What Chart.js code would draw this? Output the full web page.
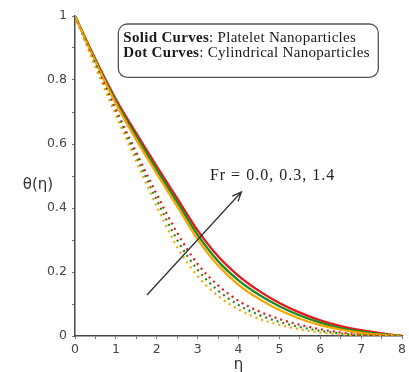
<!DOCTYPE html>
<html>
<head>
<meta charset="utf-8">
<script src="https://cdn.jsdelivr.net/npm/chart.js@4.4.1/dist/chart.umd.min.js"></script>
<style>
  html, body { margin: 0; padding: 0; background: #fff; }
  #wrap { width: 409px; height: 372px; }
</style>
</head>
<body>
<div id="wrap"><canvas id="theta"></canvas></div>
<script>
// eta grid
let eta = [0, 0.5, 1, 1.5, 2, 2.5, 3, 3.5, 4, 4.5, 5, 5.5, 6, 6.5, 7, 7.5, 8];

// platelet nanoparticles (solid)
let plateFr00 = [1, 0.857, 0.726, 0.613, 0.507, 0.405, 0.302, 0.22, 0.16, 0.116, 0.081, 0.054, 0.034, 0.02, 0.01, 0.004, 0];
let plateFr03 = [1, 0.861, 0.733, 0.623, 0.519, 0.418, 0.316, 0.234, 0.174, 0.129, 0.093, 0.064, 0.042, 0.025, 0.014, 0.006, 0];
let plateFr14 = [1, 0.865, 0.74, 0.633, 0.53, 0.43, 0.33, 0.249, 0.188, 0.141, 0.103, 0.073, 0.049, 0.031, 0.018, 0.008, 0];

// cylindrical nanoparticles (dotted)
let cylFr00 = [1, 0.84, 0.69, 0.545, 0.405, 0.278, 0.187, 0.125, 0.083, 0.054, 0.035, 0.021, 0.011, 0.005, 0.001, 0, 0];
let cylFr03 = [1, 0.845, 0.7, 0.56, 0.425, 0.3, 0.207, 0.142, 0.097, 0.066, 0.044, 0.028, 0.016, 0.008, 0.003, 0, 0];
let cylFr14 = [1, 0.85, 0.708, 0.573, 0.443, 0.322, 0.225, 0.158, 0.11, 0.077, 0.053, 0.035, 0.021, 0.011, 0.004, 0.001, 0];

let xTicks = [0, 1, 2, 3, 4, 5, 6, 7, 8];
let yTicks = [0, 0.2, 0.4, 0.6, 0.8, 1];

let RED = '#e8161b';
let GREEN = '#1f8a22';
let ORANGE = '#f7a600';

function pts(ys) {
  return eta.map((x, i) => ({x: x, y: ys[i]}));
}

function line(ys, colour, dotted) {
  return {
    data: pts(ys),
    borderColor: colour,
    borderWidth: dotted ? 2.2 : 2.3,
    borderDash: dotted ? [2, 4] : [],
    pointRadius: 0,
    fill: false,
    cubicInterpolationMode: 'monotone'
  };
}

// box, arrow and labels drawn in data units
let notes = {
  id: 'notes',
  afterDatasetsDraw(chart) {
    let ctx = chart.ctx;
    let xs = chart.scales.x, ys = chart.scales.y;
    let X = v => xs.getPixelForValue(v), Y = v => ys.getPixelForValue(v);
    ctx.save();

    // legend box
    let bx = X(1.06), by = Y(0.975), bw = X(7.42) - bx, bh = Y(0.808) - by;
    ctx.beginPath();
    ctx.roundRect(bx, by, bw, bh, 9);
    ctx.fillStyle = '#fff';
    ctx.fill();
    ctx.strokeStyle = '#555';
    ctx.lineWidth = 1.3;
    ctx.stroke();

    ctx.fillStyle = '#1a1a1a';
    ctx.textBaseline = 'middle';
    ctx.textAlign = 'left';
    ctx.letterSpacing = '0.3px';
    let rows = [['Solid Curves', ': Platelet Nanoparticles'], ['Dot Curves', ': Cylindrical Nanoparticles']];
    rows.forEach((r, i) => {
      let ty = by + 14 + i * 15.5;
      ctx.font = 'bold 15px "Liberation Serif"';
      ctx.fillText(r[0], bx + 5, ty);
      let w = ctx.measureText(r[0]).width;
      ctx.font = '15px "Liberation Serif"';
      ctx.fillText(r[1], bx + 5 + w, ty);
    });

    // arrow
    let x0 = X(1.76), y0 = Y(0.128), x1 = X(4.07), y1 = Y(0.45);
    ctx.strokeStyle = '#333';
    ctx.lineWidth = 1.3;
    ctx.beginPath();
    ctx.moveTo(x0, y0);
    ctx.lineTo(x1, y1);
    let a = Math.atan2(y1 - y0, x1 - x0);
    ctx.moveTo(x1 - 10 * Math.cos(a - 0.4), y1 - 10 * Math.sin(a - 0.4));
    ctx.lineTo(x1, y1);
    ctx.lineTo(x1 - 10 * Math.cos(a + 0.4), y1 - 10 * Math.sin(a + 0.4));
    ctx.stroke();

    ctx.font = '16px "Liberation Serif"';
    ctx.letterSpacing = '1px';
    ctx.fillStyle = '#222';
    ctx.fillText('Fr = 0.0, 0.3, 1.4', X(3.3), Y(0.5));

    // axis titles
    ctx.letterSpacing = '0px';
    ctx.font = '15px "DejaVu Sans"';
    ctx.fillStyle = '#333';
    ctx.textAlign = 'center';
    ctx.fillText('θ(η)', 38, Y(0.47));
    ctx.fillText('η', X(4), 365);
    ctx.restore();
  }
};

new Chart('theta', {
  type: 'line',
  data: {
    datasets: [
      line(cylFr00, ORANGE, true),
      line(cylFr03, GREEN, true),
      line(cylFr14, RED, true),
      line(plateFr00, ORANGE, false),
      line(plateFr03, GREEN, false),
      line(plateFr14, RED, false)
    ]
  },
  options: {
    responsive: true,
    maintainAspectRatio: false,
    animation: false,
    layout: {padding: {top: 16, right: 2, left: 0, bottom: 0}},
    plugins: {legend: {display: false}, tooltip: {enabled: false}},
    scales: {
      x: {
        type: 'linear',
        min: 0, max: 8,
        afterFit: s => { s.height = 36; },
        border: {display: true, color: '#484848', width: 1.5},
        grid: {drawOnChartArea: false, drawTicks: true, tickLength: 3, color: '#777'},
        ticks: {
          stepSize: 0.5,
          autoSkip: false,
          maxRotation: 0,
          padding: 3,
          color: '#444',
          font: {family: 'DejaVu Sans', size: 12.5},
          callback: v => xTicks.includes(v) ? String(v) : ''
        }
      },
      y: {
        min: 0, max: 1,
        afterFit: s => { s.width = 75; },
        border: {display: true, color: '#484848', width: 1.5},
        grid: {drawOnChartArea: false, drawTicks: true, tickLength: 3, color: '#777'},
        ticks: {
          stepSize: 0.1,
          autoSkip: false,
          padding: 5,
          color: '#444',
          font: {family: 'DejaVu Sans', size: 12.5},
          callback: v => {
            let r = Math.round(v * 10) / 10;
            return yTicks.includes(r) ? String(r) : '';
          }
        }
      }
    }
  },
  plugins: [notes]
});
</script>
</body>
</html>
